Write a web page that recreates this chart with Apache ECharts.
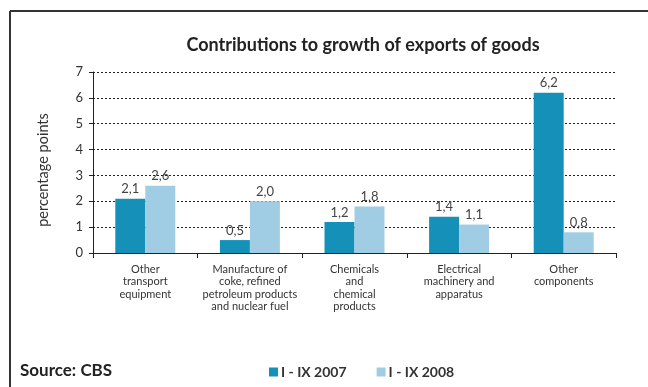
<!DOCTYPE html>
<html>
<head>
<meta charset="utf-8">
<script src="https://cdn.jsdelivr.net/npm/echarts@6/dist/echarts.min.js"></script>
<style>
  html, body { margin: 0; padding: 0; background: #fff; }
  #chart { width: 648px; height: 387px; }
</style>
</head>
<body>
<div id="chart"></div>
<script>
// Categories and contributions (percentage points)
const categories = [
  'Other\ntransport\nequipment',
  'Manufacture of\ncoke, refined\npetroleum products\nand nuclear fuel',
  'Chemicals\nand\nchemical\nproducts',
  'Electrical\nmachinery and\napparatus',
  'Other\ncomponents'
];
const seriesNames = ['I - IX 2007', 'I - IX 2008'];
const values2007 = [2.1, 0.5, 1.2, 1.4, 6.2];
const values2008 = [2.6, 2.0, 1.8, 1.1, 0.8];
const yTicks = [0, 1, 2, 3, 4, 5, 6, 7];

const FONT = 'Lato, "Open Sans", sans-serif';
const fmt = v => v.toFixed(1).replace('.', ',');

const chart = echarts.init(document.getElementById('chart'));

const labelStyle = {
  show: true,
  position: 'top',
  distance: 3,
  color: '#444',
  fontFamily: FONT,
  fontSize: 13,
  formatter: p => fmt(p.value)
};

chart.setOption({
  animation: false,
  backgroundColor: '#fff',
  title: {
    text: 'Contributions to growth of exports of goods',
    left: 358,
    textAlign: 'center',
    top: 31,
    textStyle: { fontFamily: FONT, fontSize: 18, fontWeight: 'bold', color: '#222' }
  },
  legend: {
    data: seriesNames,
    left: 264,
    top: 360,
    itemWidth: 9,
    itemHeight: 9,
    itemGap: 30,
    icon: 'rect',
    textStyle: { fontFamily: FONT, fontSize: 14, fontWeight: 'bold', color: '#333', padding: [0, 0, 0, -2] }
  },
  grid: { left: 93, right: 32, top: 72, bottom: 134, containLabel: false },
  xAxis: {
    type: 'category',
    data: categories,
    axisLine: { lineStyle: { color: '#222', width: 1 } },
    axisTick: { show: true, length: 5, lineStyle: { color: '#222' } },
    axisLabel: {
      interval: 0,
      margin: 10,
      fontFamily: FONT,
      fontSize: 11,
      lineHeight: 12.5,
      color: '#333'
    }
  },
  yAxis: {
    type: 'value',
    min: yTicks[0],
    max: yTicks[yTicks.length - 1],
    interval: 1,
    axisLine: { show: true, lineStyle: { color: '#222', width: 1 } },
    axisTick: { show: true, length: 4, lineStyle: { color: '#222' } },
    axisLabel: { margin: 10, fontFamily: FONT, fontSize: 13, color: '#333' },
    splitLine: { show: true, lineStyle: { color: '#222', type: [2, 2], width: 1 } }
  },
  series: [
    {
      name: seriesNames[0],
      type: 'bar',
      data: values2007,
      barWidth: 30,
      barGap: '0%',
      itemStyle: { color: '#1591b9' },
      label: labelStyle
    },
    {
      name: seriesNames[1],
      type: 'bar',
      data: values2008,
      barWidth: 30,
      itemStyle: { color: '#a0cde4' },
      label: labelStyle
    }
  ],
  graphic: [
    { type: 'line', shape: { x1: 10, y1: 11, x2: 648, y2: 11 }, style: { stroke: '#333', lineWidth: 2 } },
    { type: 'line', shape: { x1: 10, y1: 11, x2: 10, y2: 387 }, style: { stroke: '#333', lineWidth: 2 } },
    {
      type: 'text', x: 43, y: 170, rotation: Math.PI / 2,
      style: {
        text: 'percentage points', fontFamily: FONT, fontSize: 14.5, fill: '#333',
        align: 'center', verticalAlign: 'middle'
      }
    },
    {
      type: 'text', left: 20, top: 362,
      style: { text: 'Source: CBS', fontFamily: FONT, fontSize: 17, fontWeight: 'bold', fill: '#222' }
    }
  ]
});
</script>
</body>
</html>
